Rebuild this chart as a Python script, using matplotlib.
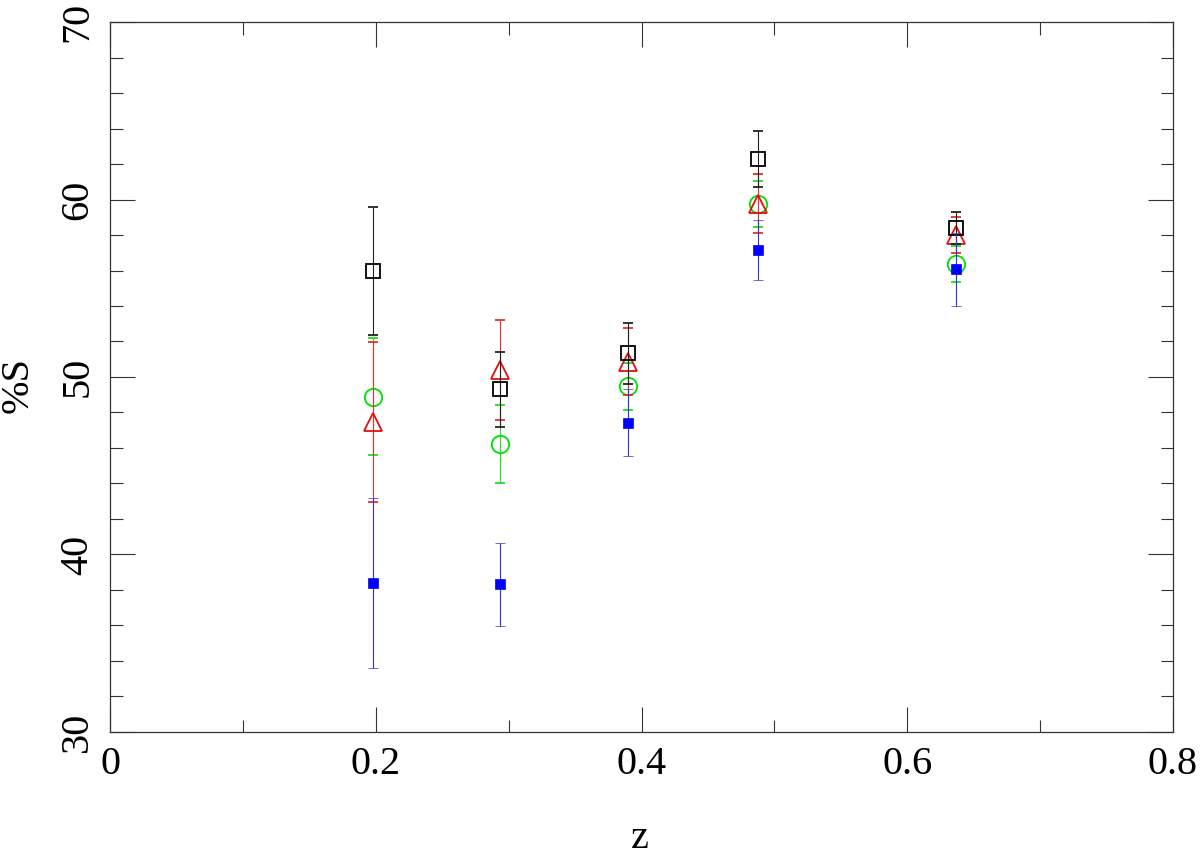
import matplotlib
matplotlib.use("Agg")
import matplotlib.pyplot as plt
from matplotlib.ticker import MultipleLocator

# redshift bins
z = [0.198, 0.2935, 0.390, 0.4877, 0.6367]

# %S per sample, with symmetric errors
s_black = [55.95, 49.31, 51.33, 62.30, 58.41]
e_black = [3.6, 2.1, 1.7, 1.57, 0.9]
s_red = [47.48, 50.39, 50.86, 59.75, 58.0]
e_red = [4.5, 2.8, 1.9, 1.66, 1.0]
s_green = [48.89, 46.23, 49.47, 59.75, 56.37]
e_green = [3.3, 2.2, 1.33, 1.3, 1.0]
s_blue = [38.38, 38.32, 47.43, 57.15, 56.07]
e_blue = [4.8, 2.35, 1.87, 1.7, 2.05]

plt.rcParams['font.family'] = ['Liberation Serif', 'DejaVu Serif']

fig = plt.figure(figsize=(12, 8.57), dpi=100)
ax = fig.add_axes([0.0917, 0.1459, 0.8858, 0.8284])

cap = 3.4
lw = 0.8
ax.errorbar(z, s_green, yerr=e_green, fmt='o', mfc='none', mec='#00e000', ms=12.5, mew=1.3,
            ecolor='#22dd22', elinewidth=lw, capsize=cap, capthick=lw, zorder=3)
ax.errorbar(z, s_red, yerr=e_red, fmt='^', mfc='none', mec='#e01010', ms=12.5, mew=1.3,
            ecolor='#e03030', elinewidth=lw, capsize=cap, capthick=lw, zorder=4)
ax.errorbar(z, s_black, yerr=e_black, fmt='s', mfc='none', mec='black', ms=10, mew=1.3,
            ecolor='#222222', elinewidth=lw, capsize=cap, capthick=lw, zorder=5)
ax.errorbar(z, s_blue, yerr=e_blue, fmt='s', mfc='blue', mec='blue', ms=6.7, mew=0.5,
            ecolor='#3333cc', elinewidth=lw, capsize=cap, capthick=lw, zorder=6)

ax.set_xlim(0, 0.8)
ax.set_ylim(30, 70)
ax.xaxis.set_minor_locator(MultipleLocator(0.1))
ax.yaxis.set_minor_locator(MultipleLocator(2))
ax.tick_params(which='both', direction='in', top=True, right=True, color='#333333', width=0.8)
ax.tick_params(which='major', length=18, labelsize=29, pad=10)
ax.tick_params(which='minor', length=9)
ax.set_xticks([0, 0.2, 0.4, 0.6, 0.8])
ax.set_xticklabels(['0', '0.2', '0.4', '0.6', '0.8'])
ax.set_yticks([30, 40, 50, 60, 70])
ax.set_yticklabels(['30', '40', '50', '60', '70'], rotation=90, va='center')
for sp in ax.spines.values():
    sp.set_linewidth(0.9)
    sp.set_color('#333333')

fig.text(0.533, 1 - 838 / 857, 'z', fontsize=29, ha='center', va='center')
fig.text(18 / 1200, 1 - 385 / 857, '%S', fontsize=29, ha='center', va='center', rotation=90)

fig.savefig('out.png', dpi=100)
